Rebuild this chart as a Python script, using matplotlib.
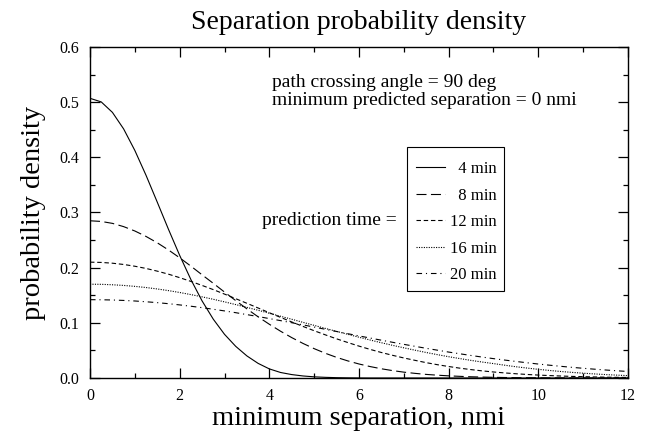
import matplotlib
matplotlib.use("Agg")
import matplotlib.pyplot as plt
from matplotlib.patches import Rectangle
from matplotlib.ticker import MultipleLocator, FormatStrFormatter

plt.rcParams['font.family'] = ['Liberation Serif', 'DejaVu Serif']

sep = [0.0, 0.25, 0.5, 0.75, 1.0, 1.25, 1.5, 1.75, 2.0, 2.25, 2.5, 2.75,
       3.0, 3.25, 3.5, 3.75, 4.0, 4.25, 4.5, 4.75, 5.0, 5.25, 5.5, 5.75,
       6.0, 6.25, 6.5, 6.75, 7.0, 7.25, 7.5, 7.75, 8.0, 8.25, 8.5, 8.75,
       9.0, 9.25, 9.5, 9.75, 10.0, 10.25, 10.5, 10.75, 11.0, 11.25, 11.5, 11.75, 12.0]

dens_4 = [0.507, 0.5005, 0.4815, 0.4515, 0.4125, 0.3674, 0.3188, 0.2696, 0.2223, 0.1785,
          0.1397, 0.1066, 0.0792, 0.0574, 0.0400, 0.0265, 0.0165, 0.0100, 0.0062, 0.0037,
          0.0021, 0.0012, 0.0006, 0.0003, 0.0001, 0.0, 0.0, 0.0, 0.0, 0.0,
          0.0, 0.0, 0.0, 0.0, 0.0, 0.0, 0.0, 0.0, 0.0, 0.0,
          0.0, 0.0, 0.0, 0.0, 0.0, 0.0, 0.0, 0.0, 0.0]
dens_8 = [0.285, 0.2838, 0.2803, 0.2744, 0.2665, 0.2566, 0.2451, 0.2321, 0.2179, 0.2028,
          0.1870, 0.1716, 0.1558, 0.1403, 0.1253, 0.1109, 0.0974, 0.0848, 0.0732, 0.0627,
          0.0532, 0.0448, 0.0374, 0.0310, 0.0254, 0.0207, 0.0167, 0.0134, 0.0106, 0.0084,
          0.0065, 0.0051, 0.0039, 0.0030, 0.0022, 0.0017, 0.0012, 0.0009, 0.0006, 0.0005,
          0.0003, 0.0002, 0.0002, 0.0001, 0.0001, 0.0, 0.0, 0.0, 0.0]
dens_12 = [0.210, 0.2095, 0.2081, 0.2058, 0.2026, 0.1986, 0.1937, 0.1882, 0.1819, 0.1751,
           0.1678, 0.1602, 0.1521, 0.1438, 0.1354, 0.1269, 0.1183, 0.1099, 0.1016, 0.0935,
           0.0857, 0.0782, 0.0710, 0.0643, 0.0578, 0.0518, 0.0462, 0.0411, 0.0363, 0.0320,
           0.0278, 0.0241, 0.0208, 0.0178, 0.0152, 0.0129, 0.0109, 0.0092, 0.0077, 0.0064,
           0.0053, 0.0044, 0.0036, 0.0029, 0.0024, 0.0019, 0.0015, 0.0012, 0.0010]
dens_16 = [0.170, 0.1698, 0.1690, 0.1678, 0.1661, 0.1640, 0.1614, 0.1584, 0.1550, 0.1512,
           0.1471, 0.1427, 0.1380, 0.1331, 0.1280, 0.1228, 0.1174, 0.1119, 0.1065, 0.1009,
           0.0954, 0.0899, 0.0845, 0.0792, 0.0739, 0.0688, 0.0639, 0.0592, 0.0547, 0.0504,
           0.0462, 0.0423, 0.0386, 0.0352, 0.0319, 0.0289, 0.0261, 0.0232, 0.0204, 0.0180,
           0.0157, 0.0137, 0.0118, 0.0102, 0.0087, 0.0074, 0.0062, 0.0052, 0.0043]
dens_20 = [0.142, 0.1418, 0.1414, 0.1406, 0.1396, 0.1382, 0.1366, 0.1347, 0.1325, 0.1301,
           0.1275, 0.1246, 0.1216, 0.1184, 0.1149, 0.1114, 0.1077, 0.1040, 0.1002, 0.0963,
           0.0923, 0.0883, 0.0843, 0.0803, 0.0763, 0.0724, 0.0685, 0.0647, 0.0610, 0.0574,
           0.0538, 0.0504, 0.0470, 0.0439, 0.0408, 0.0379, 0.0351, 0.0325, 0.0300, 0.0276,
           0.0253, 0.0232, 0.0212, 0.0193, 0.0176, 0.0160, 0.0145, 0.0131, 0.0118]

labels = ["  4 min", "  8 min", "12 min", "16 min", "20 min"]
series = [dens_4, dens_8, dens_12, dens_16, dens_20]
styles = ['-', (0, (9, 4)), (0, (4, 2.5)), (0, (1, 1.2)), (0, (5, 3.5, 1, 3.5))]

fig = plt.figure(figsize=(6.52, 4.38), dpi=100)
ax = fig.add_axes([90/652, 1 - 378/438, (628-90)/652, (378-47)/438])

for d, ls, lab in zip(series, styles, labels):
    ax.plot(sep, d, color='black', lw=0.8, linestyle=ls, label=lab)

ax.set_xlim(0, 12)
ax.set_ylim(0, 0.6)
ax.xaxis.set_major_locator(MultipleLocator(2))
ax.xaxis.set_minor_locator(MultipleLocator(1))
ax.yaxis.set_major_locator(MultipleLocator(0.1))
ax.yaxis.set_minor_locator(MultipleLocator(0.05))
ax.yaxis.set_major_formatter(FormatStrFormatter('%.1f'))
ax.tick_params(which='both', direction='in', top=True, right=True, labelsize=11.5,
               width=0.9, pad=7.5)
ax.tick_params(which='major', length=7)
ax.tick_params(which='minor', length=3.5)
for s in ax.spines.values():
    s.set_linewidth(1.0)

ax.set_title("Separation probability density", fontsize=20, pad=13)
ax.set_xlabel("minimum separation, nmi", fontsize=20.5, labelpad=1)
ax.set_ylabel("probability density", fontsize=20.5, labelpad=10)

ax.text(0.338, 0.8656, "path crossing angle = 90 deg\nminimum predicted separation = 0 nmi",
        transform=ax.transAxes, fontsize=14, va='center', ha='left', linespacing=1.05)
ax.text(0.571, 0.477, "prediction time =", transform=ax.transAxes, fontsize=14,
        va='center', ha='right')

leg = ax.legend(loc='upper left', bbox_to_anchor=(0.606, 0.655), borderaxespad=0,
                fontsize=12, frameon=False, handlelength=1.75, handletextpad=0.3,
                labelspacing=0.63, borderpad=0)
ax.add_patch(Rectangle((0.5892, 0.2628), 0.1803, 0.435, transform=ax.transAxes,
                       fill=False, edgecolor='black', lw=0.8, zorder=5))

fig.savefig("out.png", dpi=100)
